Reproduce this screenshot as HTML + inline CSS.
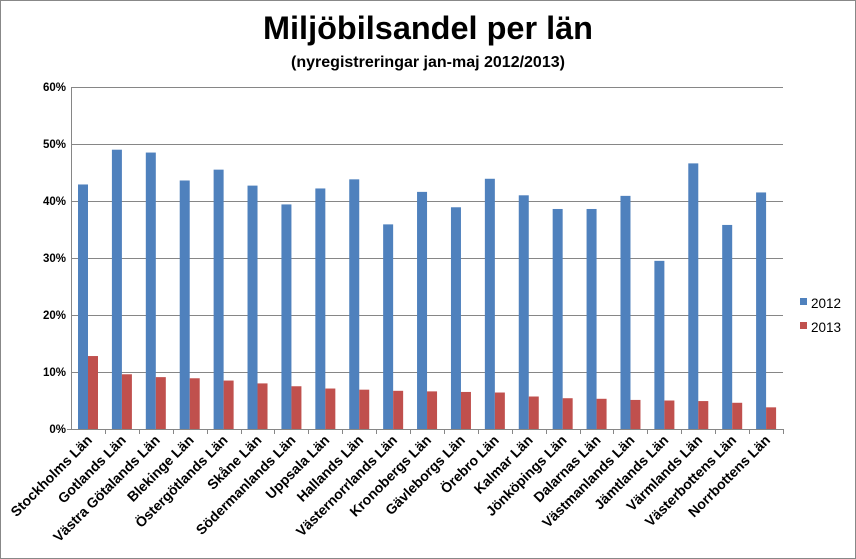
<!DOCTYPE html>
<html><head><meta charset="utf-8"><style>
body{margin:0;background:#fff}
svg{display:block;font-family:"Liberation Sans",Arial,sans-serif}
</style></head><body>
<svg width="856" height="559" viewBox="0 0 856 559" xmlns="http://www.w3.org/2000/svg">
<rect x="0.5" y="0.5" width="855" height="558" fill="#fff" stroke="#888"/>
<text x="428" y="39" text-anchor="middle" font-size="32" font-weight="bold" fill="#000" textLength="330" lengthAdjust="spacingAndGlyphs">Miljöbilsandel per län</text>
<text x="428" y="67" text-anchor="middle" font-size="16" font-weight="bold" fill="#000">(nyregistreringar jan-maj 2012/2013)</text>
<g stroke="#868686" stroke-width="1">
<line x1="71" x2="783" y1="87.5" y2="87.5"/>
<line x1="71" x2="783" y1="144.5" y2="144.5"/>
<line x1="71" x2="783" y1="201.5" y2="201.5"/>
<line x1="71" x2="783" y1="258.5" y2="258.5"/>
<line x1="71" x2="783" y1="315.5" y2="315.5"/>
<line x1="71" x2="783" y1="372.5" y2="372.5"/>
</g>
<g font-size="11.5" font-weight="bold" text-anchor="end" fill="#000">
<text x="66" y="91">60%</text><text x="66" y="148">50%</text><text x="66" y="205">40%</text>
<text x="66" y="262">30%</text><text x="66" y="319">20%</text><text x="66" y="376">10%</text><text x="66" y="433">0%</text>
</g>
<g id="bars"></g>
<line x1="71.5" x2="71.5" y1="87" y2="429" stroke="#868686"/>
<line x1="67" x2="783" y1="429.5" y2="429.5" stroke="#868686"/>
<g id="ticks" stroke="#868686"></g>
<g id="labels" font-size="14" font-weight="bold" fill="#000"></g>
<rect x="800" y="298" width="7" height="7" fill="#4F81BD"/>
<text x="811" y="308" font-size="13.5" fill="#000">2012</text>
<rect x="800" y="322" width="7" height="7" fill="#C0504D"/>
<text x="811" y="332" font-size="13.5" fill="#000">2013</text>
</svg>
<script>
var names=["Stockholms Län","Gotlands Län","Västra Götalands Län","Blekinge Län","Östergötlands Län","Skåne Län","Södermanlands Län","Uppsala Län","Hallands Län","Västernorrlands Län","Kronobergs Län","Gävleborgs Län","Örebro Län","Kalmar Län","Jönköpings Län","Dalarnas Län","Västmanlands Län","Jämtlands Län","Värmlands Län","Västerbottens Län","Norrbottens Län"];
var a=[42.9,49,48.5,43.6,45.5,42.7,39.4,42.2,43.8,35.9,41.6,38.9,43.9,41,38.6,38.6,40.9,29.5,46.6,35.8,41.5];
var b=[12.8,9.6,9.1,8.9,8.5,8.0,7.5,7.1,6.9,6.7,6.6,6.5,6.4,5.7,5.4,5.3,5.1,5.0,4.9,4.6,3.8];
var NS="http://www.w3.org/2000/svg",w=712/21,y0=429,s=5.7;
function el(t,at,p,txt){var e=document.createElementNS(NS,t);for(var k in at)e.setAttribute(k,at[k]);if(txt)e.textContent=txt;document.getElementById(p).appendChild(e);}
for(var i=0;i<21;i++){var x=71+i*w;
el("rect",{x:x+7,y:y0-a[i]*s,width:10,height:a[i]*s,fill:"#4F81BD"},"bars");
el("rect",{x:x+17,y:y0-b[i]*s,width:10,height:b[i]*s,fill:"#C0504D"},"bars");
var tx=Math.round(x+w)+0.5;el("line",{x1:tx,x2:tx,y1:429,y2:434},"ticks");
var cx=x+w/2+5,cy=441;
el("text",{x:cx,y:cy,"text-anchor":"end",transform:"rotate(-45 "+cx+" "+cy+")"},"labels",names[i]);}
</script>
</body></html>
